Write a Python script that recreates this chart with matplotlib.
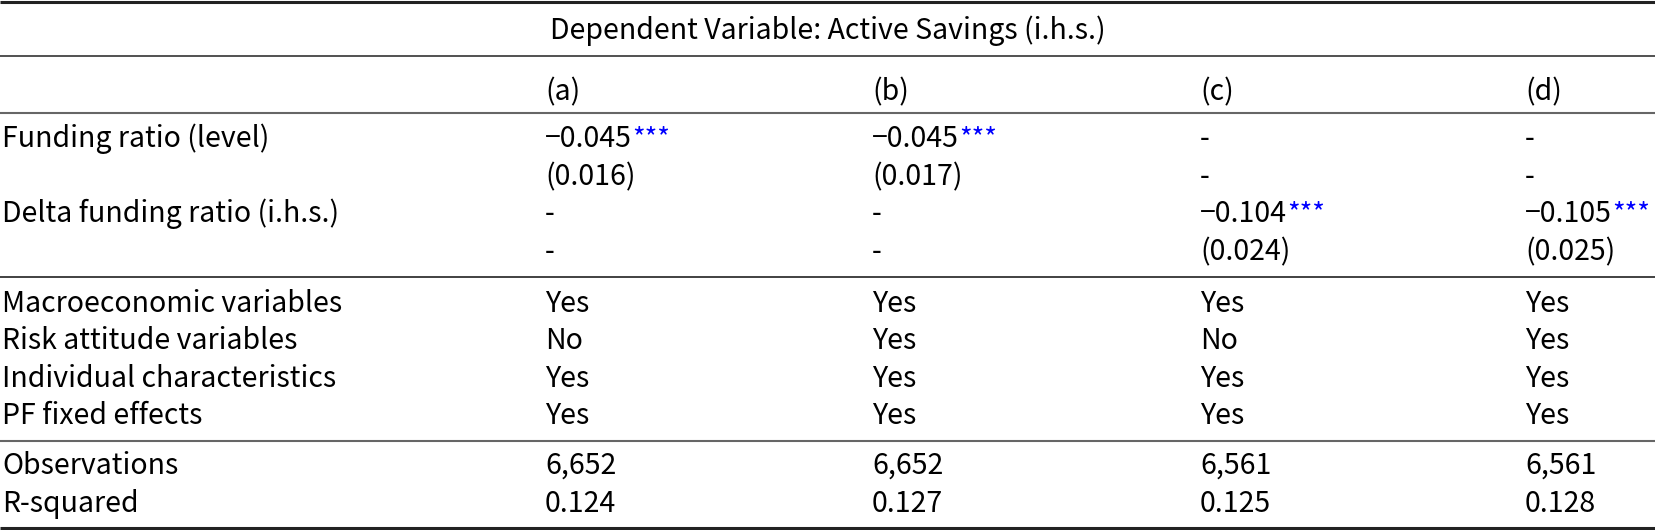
import matplotlib.pyplot as plt

plt.rcParams['font.family'] = ['Noto Sans CJK SC', 'DejaVu Sans']

header = 'Dependent Variable: Active Savings (i.h.s.)'
columns = ['(a)', '(b)', '(c)', '(d)']

coef_rows = ['Funding ratio (level)', '', 'Delta funding ratio (i.h.s.)', '']
coef_vals = [
    ['\u22120.045', '\u22120.045', '-', '-'],
    ['(0.016)', '(0.017)', '-', '-'],
    ['-', '-', '\u22120.104', '\u22120.105'],
    ['-', '-', '(0.024)', '(0.025)'],
]
coef_stars = [
    ['***', '***', '', ''],
    ['', '', '', ''],
    ['', '', '***', '***'],
    ['', '', '', ''],
]

control_rows = ['Macroeconomic variables', 'Risk attitude variables',
                'Individual characteristics', 'PF fixed effects']
control_vals = [
    ['Yes', 'Yes', 'Yes', 'Yes'],
    ['No', 'Yes', 'No', 'Yes'],
    ['Yes', 'Yes', 'Yes', 'Yes'],
    ['Yes', 'Yes', 'Yes', 'Yes'],
]

stat_rows = ['Observations', 'R-squared']
stat_vals = [
    ['6,652', '6,652', '6,561', '6,561'],
    ['0.124', '0.127', '0.125', '0.128'],
]

W, H = 1655, 530
fig = plt.figure(figsize=(W / 100, H / 100), dpi=100)
ax = fig.add_axes([0, 0, 1, 1])
ax.set_xlim(0, W)
ax.set_ylim(H, 0)
ax.axis('off')

fs = 20.5
col_x = [545, 872, 1200, 1525]
label_x = 2

# horizontal rules
for y, lw, c in [(2, 2.2, '#222222'), (56, 1.2, '#333333'), (113, 1.5, '#666666'),
                 (277, 1.3, '#333333'), (441, 1.5, '#666666'), (528, 2.2, '#222222')]:
    ax.plot([0, W], [y, y], color=c, lw=lw, solid_capstyle='butt')

ax.text(W / 2, 31, header, ha='center', va='center', fontsize=fs)
for x, c in zip(col_x, columns):
    ax.text(x, 92, c, ha='left', va='center', fontsize=fs)


def put_row(y, label, vals, stars=None):
    ax.text(label_x, y, label, ha='left', va='center', fontsize=fs)
    for j, v in enumerate(vals):
        t = ax.text(col_x[j], y, v, ha='left', va='center', fontsize=fs)
        if stars and stars[j]:
            ax.annotate(stars[j], xy=(1, 0.97), xycoords=t, ha='left', va='top',
                        fontsize=fs * 0.95, color='#0000ff', xytext=(0, 0),
                        textcoords='offset points')


coef_y = [139, 177, 214, 252]
for y, lab, vals, st in zip(coef_y, coef_rows, coef_vals, coef_stars):
    put_row(y, lab, vals, st)

ctrl_y = [304, 341, 379, 416]
for y, lab, vals in zip(ctrl_y, control_rows, control_vals):
    put_row(y, lab, vals)

stat_y = [466, 504]
for y, lab, vals in zip(stat_y, stat_rows, stat_vals):
    put_row(y, lab, vals)

fig.savefig('out.png', dpi=100)
